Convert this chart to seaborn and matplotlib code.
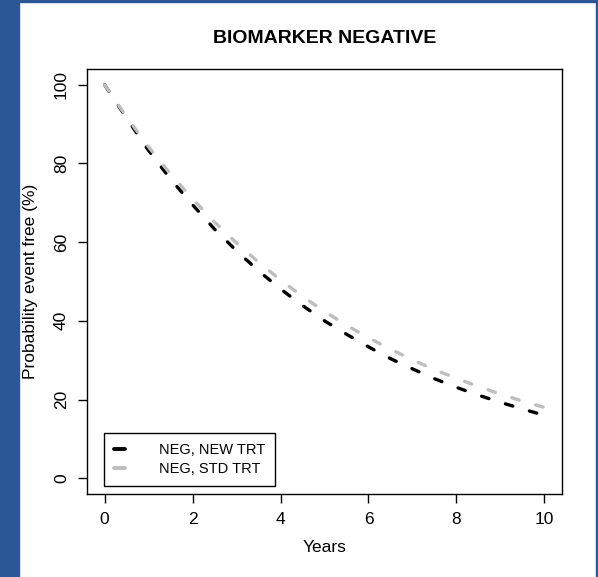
import numpy as np
import pandas as pd
import matplotlib
matplotlib.use("Agg")
import matplotlib.pyplot as plt
from matplotlib.lines import Line2D
from matplotlib.patches import Rectangle
import seaborn as sns

sns.set_style("ticks")
plt.rcParams["font.family"] = ["Liberation Sans", "DejaVu Sans"]
plt.rcParams["text.color"] = "black"
plt.rcParams["axes.labelcolor"] = "black"

# values (probability event free, %)
years = [0, 0.5, 1, 1.5, 2, 2.5, 3, 3.5, 4, 4.5, 5, 5.5, 6, 6.5, 7, 7.5, 8, 8.5, 9, 9.5, 10]
neg_new = [100, 91.5, 83.3, 76.0, 69.5, 63.3, 57.8, 52.7, 48.1, 43.9, 40.0,
           36.6, 33.4, 30.4, 27.8, 25.3, 23.1, 21.1, 19.3, 17.6, 16.0]
neg_std = [100, 91.8, 84.2, 77.3, 71.0, 65.1, 59.8, 54.9, 50.4, 46.2, 42.4,
           38.9, 35.7, 32.8, 30.1, 27.6, 25.4, 23.3, 21.4, 19.6, 18.0]
series_names = ["NEG, NEW TRT", "NEG, STD TRT"]
series_colors = ["#000000", "#BEBEBE"]

df = pd.DataFrame({
    "Years": years * 2,
    "Prob": neg_new + neg_std,
    "Group": [series_names[0]] * len(years) + [series_names[1]] * len(years),
})

fig = plt.figure(figsize=(5.98, 5.77), dpi=100)
ax = fig.add_axes([87 / 598, 1 - 494 / 577, 475 / 598, 425 / 577])

dash = (0, (2.3, 5.2))
for name, col in zip(series_names, series_colors):
    sub = df[df["Group"] == name]
    sns.lineplot(data=sub, x="Years", y="Prob", ax=ax, color=col, lw=2.4,
                 linestyle=dash, dash_capstyle="round", legend=False)

ax.set_xlim(-0.4, 10.4)
ax.set_ylim(-4, 104)
ax.set_xticks(range(0, 11, 2))
ax.set_yticks(range(0, 101, 20))
ax.tick_params(axis="both", direction="out", length=6.5, width=1, labelsize=12.5, pad=6.5, colors="black")
for lab in ax.get_yticklabels():
    lab.set_rotation(90)
    lab.set_va("center")
for s in ax.spines.values():
    s.set_visible(True)
    s.set_linewidth(1)
    s.set_color("black")

ax.set_title("BIOMARKER NEGATIVE", fontsize=14, fontweight="bold", pad=18.5, color="black")
ax.set_xlabel("Years", fontsize=12.5)
ax.set_ylabel("Probability event free (%)", fontsize=12.5)
ax.xaxis.set_label_coords(0.5, -0.108)
ax.yaxis.set_label_coords(-0.103, 0.5)

handles = [Line2D([0], [0], color=c, lw=2.8, solid_capstyle="round") for c in series_colors]
leg = ax.legend(handles, series_names, loc="lower left", bbox_to_anchor=(0.036, 0.019),
                borderaxespad=0, fontsize=10.5, handlelength=0.75, handletextpad=2.3,
                fancybox=False, framealpha=1, edgecolor="black", borderpad=0.7,
                labelspacing=0.3)
leg.get_frame().set_linewidth(1)

# blue page border
blue = "#2B5797"
fig.patches.append(Rectangle((0, 0), 19 / 598, 1, transform=fig.transFigure, color=blue, zorder=-1))
fig.patches.append(Rectangle((0, 1 - 1.5 / 577), 1, 1.5 / 577, transform=fig.transFigure, color=blue, zorder=-1))
fig.patches.append(Rectangle((595.5 / 598, 0), 2.5 / 598, 1, transform=fig.transFigure, color=blue, zorder=-1))

fig.savefig("out.png", dpi=100)
